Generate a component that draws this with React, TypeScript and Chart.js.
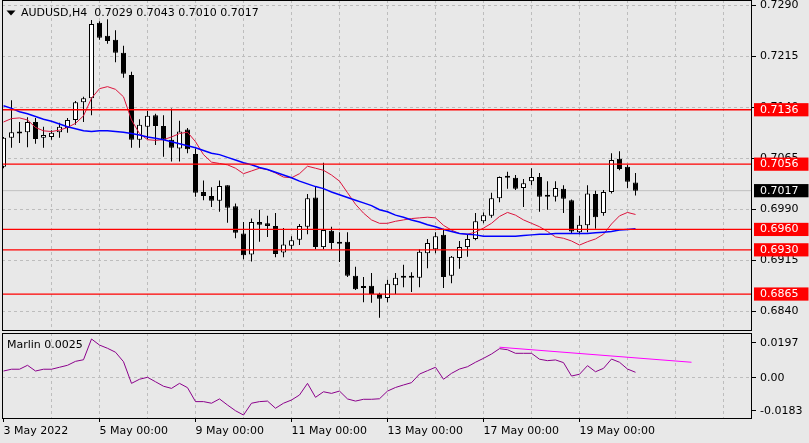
import React, { useEffect, useRef } from "react";
import { Chart, registerables } from "chart.js";

Chart.register(...registerables);

const FONT_FAMILY = '"DejaVu Sans", Verdana, sans-serif';
const BG = "#e8e8e8";
const GRID = "#bdbdbd";

// ---- data (AUDUSD H4, bars from 3 May 2022 00:00) ----
const openPrices = [
  0.7052, 0.7095, 0.7103, 0.7103, 0.7118, 0.7095, 0.7096, 0.7103, 0.7109, 0.7121,
  0.7147, 0.7153, 0.7264, 0.7245, 0.7239, 0.722, 0.7187, 0.7092, 0.7111, 0.7128,
  0.7112, 0.7092, 0.7079, 0.7107, 0.7071, 0.7015, 0.7009, 0.7002, 0.7025, 0.6994,
  0.6954, 0.6923, 0.6971, 0.6969, 0.6965, 0.6926, 0.6936, 0.6945, 0.6964, 0.7007,
  0.6934, 0.6958, 0.694, 0.6942, 0.6892, 0.6875, 0.6877, 0.6865, 0.6859, 0.6878,
  0.689, 0.6892, 0.6889, 0.6925, 0.6931, 0.6952, 0.6892, 0.6918, 0.6934, 0.6946,
  0.6972, 0.698, 0.7006, 0.7037, 0.7036, 0.7021, 0.7031, 0.7037, 0.701, 0.7008,
  0.702, 0.7003, 0.6956, 0.6966, 0.7012, 0.6984, 0.7015, 0.7064, 0.7052, 0.7029,
];
const highPrices = [
  0.7096, 0.715, 0.7118, 0.7125, 0.7124, 0.7111, 0.7106, 0.7117, 0.7124, 0.7149,
  0.7155, 0.7268, 0.7266, 0.7269, 0.7253, 0.723, 0.7192, 0.7122, 0.7134, 0.713,
  0.7128, 0.7138, 0.712, 0.7109, 0.7079, 0.7032, 0.7022, 0.7032, 0.7025, 0.6998,
  0.6971, 0.6976, 0.6989, 0.698, 0.6984, 0.6962, 0.695, 0.6968, 0.7012, 0.7024,
  0.7058, 0.6964, 0.6956, 0.6956, 0.6905, 0.689, 0.6896, 0.6867, 0.6886, 0.6896,
  0.6908, 0.6897, 0.6931, 0.6946, 0.6956, 0.6961, 0.6921, 0.6943, 0.6952, 0.6984,
  0.6985, 0.7014, 0.7038, 0.7045, 0.704, 0.7034, 0.705, 0.7043, 0.7031, 0.7031,
  0.7025, 0.7004, 0.698, 0.7025, 0.7017, 0.7018, 0.7072, 0.7075, 0.7055, 0.7043,
];
const lowPrices = [
  0.705, 0.708, 0.7087, 0.7081, 0.7086, 0.708, 0.7092, 0.7095, 0.7102, 0.7114,
  0.7118, 0.7128, 0.7239, 0.7233, 0.7206, 0.7183, 0.708, 0.708, 0.7093, 0.7084,
  0.7067, 0.706, 0.706, 0.7072, 0.7008, 0.7003, 0.6993, 0.6986, 0.697, 0.6947,
  0.6916, 0.6913, 0.6942, 0.6949, 0.6919, 0.6919, 0.6931, 0.6937, 0.6953, 0.6931,
  0.6931, 0.6931, 0.6912, 0.689, 0.6871, 0.6853, 0.6852, 0.683, 0.6853, 0.6865,
  0.6875, 0.6868, 0.6875, 0.6903, 0.6925, 0.6874, 0.6881, 0.6902, 0.692, 0.6944,
  0.6969, 0.6977, 0.7, 0.702, 0.7018, 0.6993, 0.7025, 0.6986, 0.6989, 0.7001,
  0.6984, 0.6954, 0.6953, 0.6956, 0.6961, 0.698, 0.7013, 0.7047, 0.7021, 0.701,
];
const closePrices = [
  0.7095, 0.7103, 0.7101, 0.7118, 0.7093, 0.7099, 0.7102, 0.7111, 0.7121, 0.7147,
  0.7153, 0.7262, 0.7242, 0.7237, 0.722, 0.7189, 0.7092, 0.7114, 0.7127, 0.7112,
  0.7092, 0.708, 0.7104, 0.7078, 0.7014, 0.7009, 0.7002, 0.7024, 0.6992, 0.6955,
  0.6922, 0.6971, 0.6967, 0.6965, 0.6924, 0.6938, 0.6944, 0.6965, 0.7006, 0.6934,
  0.6959, 0.694, 0.6939, 0.6892, 0.6872, 0.6874, 0.6865, 0.6858, 0.688, 0.6889,
  0.6889, 0.6889, 0.6927, 0.694, 0.695, 0.689, 0.692, 0.6934, 0.6946, 0.6972,
  0.6981, 0.7006, 0.7037, 0.7036, 0.702, 0.7028, 0.7037, 0.7008, 0.7008, 0.7021,
  0.7005, 0.6957, 0.6967, 0.7013, 0.6978, 0.7015, 0.7062, 0.7049, 0.703, 0.7017,
];
const fastMA = [
  0.7118, 0.7123, 0.7124, 0.7121, 0.711, 0.7105, 0.7104, 0.7106, 0.711, 0.7116,
  0.7127, 0.7153, 0.7167, 0.717, 0.7166, 0.7155, 0.7121, 0.7101, 0.7092, 0.7091,
  0.7092, 0.7096, 0.7101, 0.7103, 0.7089, 0.707, 0.7059, 0.7057, 0.7055, 0.705,
  0.7042, 0.7046, 0.705, 0.7048, 0.7043, 0.7037, 0.7036, 0.7042, 0.7053, 0.705,
  0.7047, 0.704, 0.7031, 0.7014, 0.6997, 0.6984, 0.6974, 0.6969, 0.6969, 0.6972,
  0.6974, 0.6976, 0.6977, 0.6978, 0.6977, 0.6966, 0.6959, 0.6954, 0.6953, 0.6956,
  0.6962, 0.6969, 0.6979, 0.6985, 0.6981, 0.6974, 0.6969, 0.6964, 0.6957, 0.6949,
  0.6947, 0.6943, 0.6937, 0.6942, 0.6946, 0.6953, 0.6968, 0.698, 0.6985, 0.6982,
];
const slowMA = [
  0.7142, 0.7138, 0.7133, 0.713, 0.7126, 0.7122, 0.7119, 0.7115, 0.7111, 0.7108,
  0.7105, 0.7104, 0.7105, 0.7105, 0.7104, 0.7103, 0.7101, 0.7099, 0.7096, 0.7094,
  0.7092, 0.7089, 0.7086, 0.7083, 0.708, 0.7076, 0.7072, 0.707, 0.7066, 0.7062,
  0.7058, 0.7055, 0.7051, 0.7048, 0.7044, 0.704, 0.7036, 0.7031, 0.7027, 0.7023,
  0.702, 0.7015, 0.7011, 0.7007, 0.7003, 0.6999, 0.6995, 0.6989, 0.6986, 0.6981,
  0.6978, 0.6974, 0.6971, 0.6967, 0.6964, 0.696, 0.6957, 0.6954, 0.6953, 0.6952,
  0.695, 0.695, 0.695, 0.695, 0.695, 0.6951, 0.6952, 0.6953, 0.6953, 0.6954,
  0.6954, 0.6954, 0.6954, 0.6954, 0.6955, 0.6956, 0.6957, 0.6959, 0.696, 0.6961,
];
const marlin = [
  0.0039, 0.0049, 0.0049, 0.0071, 0.0039, 0.0049, 0.0049, 0.006, 0.0071, 0.0093,
  0.0102, 0.0218, 0.0184, 0.0166, 0.0144, 0.0091, -0.003, -0.0007, 0.0004, -0.0021,
  -0.0046, -0.0058, -0.003, -0.0054, -0.0132, -0.0132, -0.0141, -0.0117, -0.0151, -0.0183,
  -0.0207, -0.0141, -0.0132, -0.0129, -0.0169, -0.0141, -0.0123, -0.0095, -0.003, -0.0108,
  -0.0077, -0.0086, -0.0073, -0.0117, -0.0129, -0.0119, -0.0119, -0.0116, -0.0073, -0.0053,
  -0.0039, -0.0026, 0.0022, 0.0041, 0.006, -0.0007, 0.0026, 0.005, 0.0063, 0.0088,
  0.011, 0.0134, 0.0164, 0.0158, 0.0138, 0.0138, 0.0138, 0.0105, 0.0097, 0.0101,
  0.0086, 0.0011, 0.0021, 0.0069, 0.0035, 0.0054, 0.0106, 0.0088, 0.005, 0.0032,
];
const trendBars = [62, 86];
const trendValues = [0.0172, 0.0088];

const priceTicks = [0.729, 0.7215, 0.714, 0.7065, 0.699, 0.6915, 0.684];
const levelPrices = [0.7136, 0.7056, 0.696, 0.693, 0.6865];
const lastPrice = 0.7017;
const marlinTicks = [0.0197, 0, -0.0183];
const marlinTickLabels = ["0.0197", "0.00", "-0.0183"];
const dateLabelBars = [0, 12, 24, 36, 48, 60, 72];
const dateLabels = [
  "3 May 2022",
  "5 May 00:00",
  "9 May 00:00",
  "11 May 00:00",
  "13 May 00:00",
  "17 May 00:00",
  "19 May 00:00",
];
const dayGridBars = [6, 12, 18, 24, 30, 36, 42, 48, 54, 60, 66, 72, 78, 84, 90];
const allGridBars = [0, 6, 12, 18, 24, 30, 36, 42, 48, 54, 60, 66, 72, 78, 84, 90];
const titleText = "AUDUSD,H4  0.7029 0.7043 0.7010 0.7017";
const indicatorTitle = "Marlin 0.0025";

// ---- view ranges ----
const X_MIN = -0.1875;
const X_MAX = 93.5625;
const Y_MAX = 0.72974;
const Y_MIN = 0.681064;
const M_MAX = 0.025147;
const M_MIN = -0.022912;

const W = 809;
const TOP_H = 331;
const BOT_H = 112;
const AXIS_W = 57;

const barIdx = openPrices.map((_, i) => i);

const zeroPad = (s: any) => {
  s.paddingTop = 0;
  s.paddingBottom = 0;
  s.paddingLeft = 0;
  s.paddingRight = 0;
};

const framePlugin = (drawText: (ctx: CanvasRenderingContext2D) => void) => ({
  id: "frame",
  afterDraw(chart: any) {
    const { ctx, chartArea: a } = chart;
    ctx.save();
    ctx.strokeStyle = "#000";
    ctx.lineWidth = 1;
    ctx.setLineDash([]);
    ctx.strokeRect(a.left + 0.5, a.top + 0.5, a.right - a.left - 1, a.bottom - a.top - 1);
    drawText(ctx);
    ctx.restore();
  },
});

function mainConfig(): any {
  const levelSets = levelPrices.map((v) => ({
    type: "line",
    data: [
      { x: X_MIN - 2, y: v },
      { x: X_MAX + 2, y: v },
    ],
    borderColor: "#ff0000",
    borderWidth: 1.3,
    pointRadius: 0,
    order: 1,
  }));
  const nReg = priceTicks.length;
  return {
    type: "bar",
    data: {
      datasets: [
        {
          type: "bar",
          data: barIdx.map((i) => ({ x: i, y: [lowPrices[i], highPrices[i]] })),
          backgroundColor: "#000",
          borderWidth: 0,
          barThickness: 1,
          grouped: false,
          inflateAmount: 0,
          order: 6,
        },
        {
          type: "bar",
          data: barIdx.map((i) => ({ x: i, y: [openPrices[i], closePrices[i]] })),
          backgroundColor: barIdx.map((i) => (closePrices[i] >= openPrices[i] ? "#ffffff" : "#000000")),
          borderColor: "#000",
          borderWidth: 1,
          borderSkipped: false,
          barThickness: 5,
          minBarLength: 2,
          grouped: false,
          inflateAmount: 0,
          order: 5,
        },
        {
          type: "line",
          data: barIdx.map((i) => ({ x: i, y: fastMA[i] })),
          borderColor: "#dc143c",
          borderWidth: 1,
          pointRadius: 0,
          order: 3,
        },
        {
          type: "line",
          data: barIdx.map((i) => ({ x: i, y: slowMA[i] })),
          borderColor: "#0000ff",
          borderWidth: 1.5,
          pointRadius: 0,
          order: 2,
        },
        {
          type: "line",
          data: [
            { x: X_MIN - 2, y: lastPrice },
            { x: X_MAX + 2, y: lastPrice },
          ],
          borderColor: "#c0c0c0",
          borderWidth: 1,
          pointRadius: 0,
          order: 7,
        },
        ...levelSets,
      ],
    },
    options: {
      animation: false,
      responsive: false,
      maintainAspectRatio: false,
      events: [],
      layout: { padding: { left: 2, right: 0, top: 0, bottom: 0 } },
      plugins: { legend: { display: false }, tooltip: { enabled: false }, title: { display: false } },
      scales: {
        x: {
          type: "linear",
          offset: false,
          min: X_MIN,
          max: X_MAX,
          afterBuildTicks: (s: any) => {
            s.ticks = dayGridBars.map((v) => ({ value: v }));
          },
          afterFit: (s: any) => {
            s.height = 0;
            zeroPad(s);
          },
          ticks: { display: false },
          grid: { color: GRID, lineWidth: 1, drawTicks: false, offset: false },
          border: { display: false, dash: [3, 3] },
        },
        y: {
          type: "linear",
          position: "right",
          min: Y_MIN,
          max: Y_MAX,
          afterBuildTicks: (s: any) => {
            s.ticks = [...priceTicks, ...levelPrices, lastPrice].map((v) => ({ value: v }));
          },
          afterFit: (s: any) => {
            s.width = AXIS_W;
            zeroPad(s);
          },
          ticks: {
            autoSkip: false,
            padding: 4,
            font: { family: FONT_FAMILY, size: 11 },
            color: (c: any) => (c.index >= nReg ? "#ffffff" : "#000000"),
            showLabelBackdrop: true,
            backdropColor: (c: any) =>
              c.index < nReg ? "rgba(0,0,0,0)" : c.index === nReg + levelPrices.length ? "#000000" : "#ff0000",
            backdropPadding: { left: 6, right: 10, top: 0, bottom: 0 },
            callback: (v: any) => Number(v).toFixed(4),
          },
          grid: {
            color: (c: any) => (c.index < nReg ? GRID : "rgba(0,0,0,0)"),
            tickColor: (c: any) => (c.index < nReg ? "#000" : "rgba(0,0,0,0)"),
            drawTicks: true,
            tickLength: 4,
            lineWidth: 1,
          },
          border: { display: false, dash: [3, 3] },
        },
      },
    },
    plugins: [
      framePlugin((ctx) => {
        ctx.fillStyle = "#000";
        ctx.beginPath();
        ctx.moveTo(6.5, 10.5);
        ctx.lineTo(15.5, 10.5);
        ctx.lineTo(11, 15.5);
        ctx.closePath();
        ctx.fill();
        ctx.font = `11px ${FONT_FAMILY}`;
        ctx.textBaseline = "middle";
        ctx.textAlign = "left";
        ctx.fillText(titleText, 21, 13);
      }),
    ],
  };
}

function lowerConfig(): any {
  return {
    type: "line",
    data: {
      datasets: [
        {
          data: barIdx.map((i) => ({ x: i, y: marlin[i] })),
          borderColor: "#8b008b",
          borderWidth: 1,
          pointRadius: 0,
          order: 2,
        },
        {
          data: trendBars.map((b, i) => ({ x: b, y: trendValues[i] })),
          borderColor: "#ff00ff",
          borderWidth: 1,
          pointRadius: 0,
          order: 1,
        },
      ],
    },
    options: {
      animation: false,
      responsive: false,
      maintainAspectRatio: false,
      events: [],
      layout: { padding: { left: 2, right: 0, top: 2, bottom: 0 } },
      plugins: { legend: { display: false }, tooltip: { enabled: false } },
      scales: {
        x: {
          type: "linear",
          offset: false,
          min: X_MIN,
          max: X_MAX,
          afterBuildTicks: (s: any) => {
            s.ticks = allGridBars.map((v) => ({ value: v }));
          },
          afterFit: (s: any) => {
            s.height = 24;
            zeroPad(s);
          },
          ticks: {
            autoSkip: false,
            maxRotation: 0,
            minRotation: 0,
            align: "start",
            padding: 3,
            color: "#000",
            font: { family: FONT_FAMILY, size: 11 },
            callback: (v: any) => {
              const k = dateLabelBars.indexOf(Number(v));
              return k >= 0 ? dateLabels[k] : "";
            },
          },
          grid: {
            color: (c: any) => (c.tick && c.tick.value === 0 ? "rgba(0,0,0,0)" : GRID),
            tickColor: (c: any) =>
              c.tick && dateLabelBars.indexOf(c.tick.value) >= 0 ? "#000" : "rgba(0,0,0,0)",
            drawTicks: true,
            tickLength: 3,
            lineWidth: 1,
          },
          border: { display: false, dash: [3, 3] },
        },
        y: {
          type: "linear",
          position: "right",
          min: M_MIN,
          max: M_MAX,
          afterBuildTicks: (s: any) => {
            s.ticks = marlinTicks.map((v) => ({ value: v }));
          },
          afterFit: (s: any) => {
            s.width = AXIS_W;
            zeroPad(s);
          },
          ticks: {
            autoSkip: false,
            padding: 4,
            color: "#000",
            font: { family: FONT_FAMILY, size: 11 },
            callback: (v: any, i: number) => marlinTickLabels[i],
          },
          grid: {
            color: (c: any) => (c.tick && c.tick.value === 0 ? GRID : "rgba(0,0,0,0)"),
            tickColor: "#000",
            drawTicks: true,
            tickLength: 4,
            lineWidth: 1,
          },
          border: { display: false, dash: [3, 3] },
        },
      },
    },
    plugins: [
      framePlugin((ctx) => {
        ctx.fillStyle = "#000";
        ctx.font = `11px ${FONT_FAMILY}`;
        ctx.textBaseline = "middle";
        ctx.textAlign = "left";
        ctx.fillText(indicatorTitle, 7, 14);
      }),
    ],
  };
}

export default function App() {
  const topRef = useRef<HTMLCanvasElement | null>(null);
  const botRef = useRef<HTMLCanvasElement | null>(null);

  useEffect(() => {
    document.body.style.margin = "0";
    const c1 = new Chart(topRef.current as HTMLCanvasElement, mainConfig());
    const c2 = new Chart(botRef.current as HTMLCanvasElement, lowerConfig());
    return () => {
      c1.destroy();
      c2.destroy();
    };
  }, []);

  return (
    <div
      style={{
        position: "fixed",
        left: 0,
        top: 0,
        width: W,
        height: TOP_H + BOT_H,
        background: BG,
        overflow: "hidden",
      }}
    >
      <canvas
        ref={topRef}
        width={W}
        height={TOP_H}
        style={{ position: "absolute", left: 0, top: 0, width: W, height: TOP_H }}
      />
      <canvas
        ref={botRef}
        width={W}
        height={BOT_H}
        style={{ position: "absolute", left: 0, top: TOP_H, width: W, height: BOT_H }}
      />
    </div>
  );
}
